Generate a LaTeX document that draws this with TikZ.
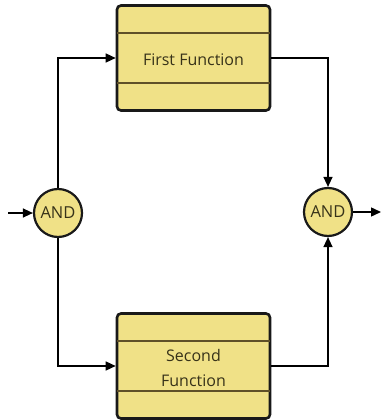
\documentclass[tikz,border=0pt]{standalone}
\usepackage{fontspec}
\setmainfont{Open Sans}
\usetikzlibrary{arrows.meta,calc}
\definecolor{boxfill}{RGB}{240,225,135}
\definecolor{boxline}{RGB}{25,25,25}
\definecolor{midline}{RGB}{95,80,40}
\definecolor{txt}{RGB}{55,50,25}
\tikzset{
  fbox/.style={draw=boxline, line width=2.6pt, fill=boxfill, rounded corners=4pt,
    minimum width=153pt, minimum height=105pt, inner sep=0pt},
  andnode/.style={circle, draw=boxline, line width=2.2pt, fill=boxfill, minimum size=48pt,
    inner sep=0pt, font=\fontsize{16.5}{18}\selectfont, text=txt},
  conn/.style={line width=1.4pt, draw=black, -{Triangle[length=10pt,width=9pt]}},
  divl/.style={line width=1.8pt, draw=midline},
  lbl/.style={font=\fontsize{16}{25}\selectfont, text=txt, align=center},
}
\begin{document}
\begin{tikzpicture}[x=1pt,y=-1pt]
\useasboundingbox (0,0) rectangle (382,420);
\node[fbox] (f1) at (193.5,58) {};
\node[lbl] (t1) at (193.5,60) {First Function};
\draw[divl] ($(f1.west)+(1.3,-25)$) -- ($(f1.east)+(-1.3,-25)$);
\draw[divl] ($(f1.west)+(1.3,25)$) -- ($(f1.east)+(-1.3,25)$);
\node[fbox] (f2) at (193.5,366) {};
\node[lbl] (t2) at (193.5,368) {Second\\Function};
\draw[divl] ($(f2.west)+(1.3,-25)$) -- ($(f2.east)+(-1.3,-25)$);
\draw[divl] ($(f2.west)+(1.3,25)$) -- ($(f2.east)+(-1.3,25)$);
\node[andnode] (a1) at (58,213) {AND};
\node[andnode] (a2) at (328,212) {AND};
\coordinate (in) at (8,213);
\coordinate (out) at (381,212);
\draw[conn] (in) -- (a1.west);
\draw[conn] (a1.north) |- (f1.west);
\draw[conn] (a1.south) |- (f2.west);
\draw[conn] (f1.east) -| (a2.north);
\draw[conn] (f2.east) -| (a2.south);
\draw[conn] (a2.east) -- (out);
\end{tikzpicture}
\end{document}
